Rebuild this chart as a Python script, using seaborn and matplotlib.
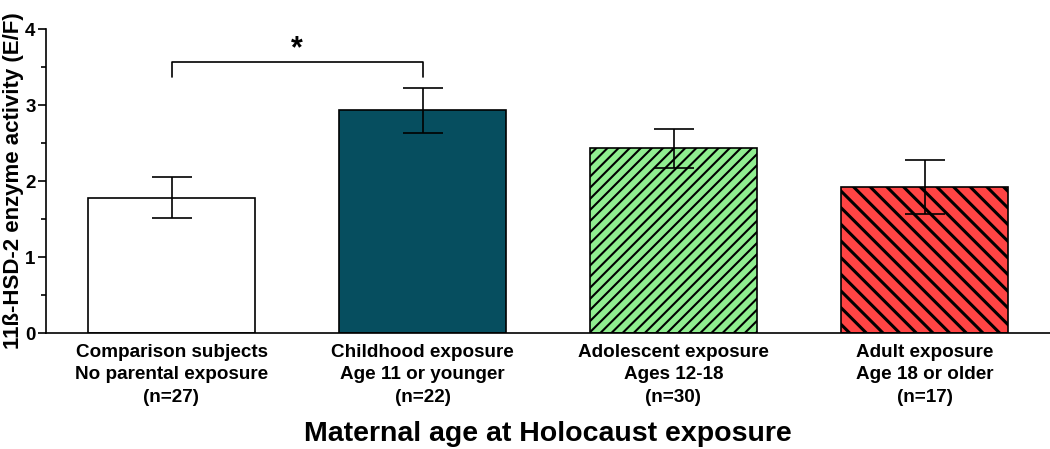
import matplotlib
matplotlib.use("Agg")
import matplotlib.pyplot as plt
import seaborn as sns
import numpy as np

categories = ["Comparison subjects\nNo parental exposure\n(n=27)",
              "Childhood exposure\nAge 11 or younger\n(n=22)",
              "Adolescent exposure\nAges 12-18\n(n=30)",
              "Adult exposure\nAge 18 or older\n(n=17)"]
means = [1.78, 2.93, 2.43, 1.92]
sems = [0.27, 0.30, 0.26, 0.36]
colors = ["#FFFFFF", "#064E5F", "#90EE90", "#FF4444"]
hatches = [None, None, "///", "\\\\"]
hatch_lw = [1.0, 1.0, 1.5, 2.2]

sns.set_style("ticks", {"axes.edgecolor": "black", "text.color": "black",
                        "axes.labelcolor": "black", "xtick.color": "black",
                        "ytick.color": "black"})
plt.rcParams['font.family'] = ['Liberation Sans', 'DejaVu Sans']

fig = plt.figure(figsize=(10.5, 4.49), dpi=100)
ax = fig.add_axes([46/1050, 1-333/449, 1-46/1050, (333-29)/449])

sns.barplot(x=categories, y=means, palette=colors, hue=categories, legend=False,
            width=0.665, edgecolor="black", linewidth=1.2, ax=ax, saturation=1)
for i, p in enumerate(ax.patches):
    if hatches[i]:
        p.set_hatch(hatches[i])
        if hasattr(p, "set_hatch_linewidth"):
            p.set_hatch_linewidth(hatch_lw[i])
        else:
            p._hatch_linewidth = hatch_lw[i]
ax.errorbar(np.arange(len(means)), means, yerr=sems, fmt="none", ecolor="black",
            elinewidth=1.2, capsize=14.5, capthick=1.2, zorder=5)

ax.set_xlim(-0.5, 3.5)
ax.set_ylim(0, 4)
ax.set_yticks([0, 1, 2, 3, 4])
ax.set_yticks([0.5, 1.5, 2.5, 3.5], minor=True)
ax.tick_params(axis="y", which="major", length=6, width=1.2, labelsize=13.5, pad=1.5)
ax.tick_params(axis="y", which="minor", length=3.5, width=1.2)
ax.tick_params(axis="x", length=0, labelsize=13.6, pad=8)
for lab in ax.get_xticklabels():
    lab.set_fontweight("bold")
    lab.set_linespacing(1.4)
for lab in ax.get_yticklabels():
    lab.set_fontweight("bold")
ax.set_ylabel("11ß-HSD-2 enzyme activity (E/F)", fontsize=16, fontweight="bold")
ax.yaxis.set_label_coords(-0.022, 0.5)
ax.set_xlabel("Maternal age at Holocaust exposure", fontsize=20.5, fontweight="bold")
ax.xaxis.set_label_coords(0.5, -0.29)
sns.despine(ax=ax)
for s in ["left", "bottom"]:
    ax.spines[s].set_linewidth(1.2)

# significance bracket
y0, y1 = 3.37, 3.57
ax.plot([0, 0, 1, 1], [y0, y1, y1, y0], color="black", lw=1.2, clip_on=False)
ax.text(0.5, 3.54, "*", ha="center", va="bottom", fontsize=22, fontweight="bold")

fig.savefig("out.png", dpi=100)
